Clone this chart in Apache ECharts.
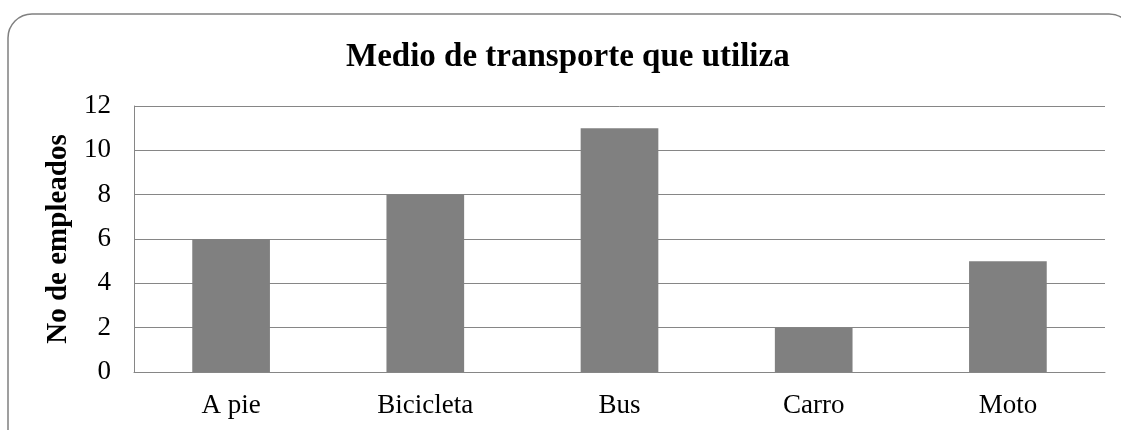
<!DOCTYPE html>
<html>
<head>
<meta charset="utf-8">
<script src="https://cdn.jsdelivr.net/npm/echarts@6/dist/echarts.min.js"></script>
<style>
  html, body { margin: 0; padding: 0; background: #fff; }
  #chart { width: 1121px; height: 430px; }
</style>
</head>
<body>
<div id="chart"></div>
<script>
// categories and values
const categories = ['A pie', 'Bicicleta', 'Bus', 'Carro', 'Moto'];
const employees = [6, 8, 11, 2, 5];

const serif = '"Liberation Serif", "Times New Roman", serif';
const chart = echarts.init(document.getElementById('chart'));

chart.setOption({
    animation: false,
    backgroundColor: '#fff',
    title: {
        text: 'Medio de transporte que utiliza',
        left: 346,
        top: 41,
        padding: 0,
        textStyle: { fontFamily: serif, fontWeight: 'bold', fontSize: 33, color: '#000' }
    },
    graphic: [{
        type: 'rect',
        shape: { x: 8, y: 14, width: 1125, height: 440, r: 24 },
        style: { fill: 'none', stroke: '#808080', lineWidth: 1.5 },
        silent: true
    }],
    grid: { left: 134, right: 16, top: 106, bottom: 58 },
    xAxis: {
        type: 'category',
        data: categories,
        axisLine: { lineStyle: { color: '#868686', width: 1 } },
        axisTick: { show: false },
        axisLabel: { fontFamily: serif, fontSize: 27, color: '#000', margin: 20 }
    },
    yAxis: {
        type: 'value',
        min: 0,
        max: 12,
        interval: 2,
        name: 'No de empleados',
        nameLocation: 'middle',
        nameGap: 57,
        nameTextStyle: { fontFamily: serif, fontWeight: 'bold', fontSize: 29, color: '#000' },
        axisLine: { show: true, lineStyle: { color: '#868686', width: 1 } },
        axisTick: { show: false },
        axisLabel: { fontFamily: serif, fontSize: 27, color: '#000', margin: 23 },
        splitLine: { lineStyle: { color: '#868686', width: 1 } }
    },
    series: [{
        type: 'bar',
        data: employees,
        barWidth: '40%',
        itemStyle: { color: '#808080' }
    }]
});
</script>
</body>
</html>
